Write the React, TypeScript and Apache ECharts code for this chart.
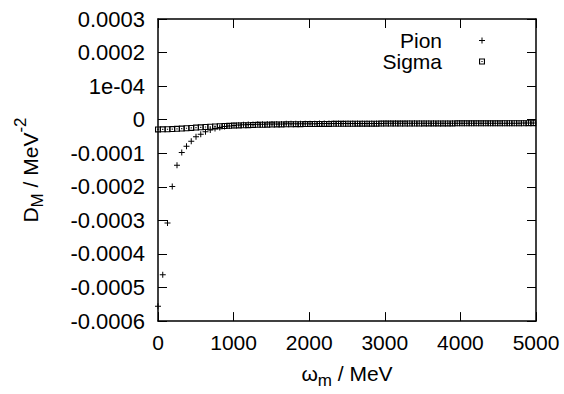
import React, { useEffect, useRef } from 'react';
import * as echarts from 'echarts';

// Matsubara frequencies omega_m (MeV)
const omega = [
  0, 62.8, 125.7, 188.5, 251.3, 314.2, 377.0, 439.8, 502.7, 565.5,
  628.3, 691.2, 754.0, 816.8, 879.6, 942.5, 1005.3, 1068.1, 1131.0, 1193.8,
  1256.6, 1319.5, 1382.3, 1445.1, 1508.0, 1570.8, 1633.6, 1696.5, 1759.3, 1822.1,
  1885.0, 1947.8, 2010.6, 2073.5, 2136.3, 2199.1, 2261.9, 2324.8, 2387.6, 2450.4,
  2513.3, 2576.1, 2638.9, 2701.8, 2764.6, 2827.4, 2890.3, 2953.1, 3015.9, 3078.8,
  3141.6, 3204.4, 3267.3, 3330.1, 3392.9, 3455.8, 3518.6, 3581.4, 3644.2, 3707.1,
  3769.9, 3832.7, 3895.6, 3958.4, 4021.2, 4084.1, 4146.9, 4209.7, 4272.6, 4335.4,
  4398.2, 4461.1, 4523.9, 4586.7, 4649.6, 4712.4, 4775.2, 4838.1, 4900.9, 4963.7,
];

const pion = [
  -556e-6, -462e-6, -308e-6, -199e-6, -136e-6, -98e-6, -79e-6, -64e-6, -51e-6, -43e-6,
  -36e-6, -31e-6, -26e-6, -23e-6, -20.5e-6, -18.5e-6, -17e-6, -16e-6, -15.2e-6, -14.6e-6,
  -14.1e-6, -13.7e-6, -13.4e-6, -13.1e-6, -12.9e-6, -12.7e-6, -12.5e-6, -12.35e-6, -12.2e-6, -12.1e-6,
  -12.0e-6, -11.9e-6, -11.8e-6, -11.7e-6, -11.6e-6, -11.55e-6, -11.5e-6, -11.45e-6, -11.4e-6, -11.35e-6,
  -11.3e-6, -11.25e-6, -11.2e-6, -11.15e-6, -11.1e-6, -11.05e-6, -11.0e-6, -10.95e-6, -10.9e-6, -10.9e-6,
  -10.85e-6, -10.8e-6, -10.8e-6, -10.75e-6, -10.7e-6, -10.7e-6, -10.65e-6, -10.6e-6, -10.6e-6, -10.6e-6,
  -10.55e-6, -10.55e-6, -10.5e-6, -10.5e-6, -10.5e-6, -10.45e-6, -10.45e-6, -10.4e-6, -10.4e-6, -10.4e-6,
  -10.35e-6, -10.35e-6, -10.3e-6, -10.3e-6, -10.3e-6, -10.25e-6, -10.25e-6, -10.2e-6, -10.2e-6, -10.2e-6,
];

const sigma = [
  -29.0e-6, -28.8e-6, -28.4e-6, -27.8e-6, -27.1e-6, -26.3e-6, -25.4e-6, -24.5e-6, -23.6e-6, -22.7e-6,
  -21.8e-6, -21.0e-6, -20.2e-6, -19.5e-6, -18.8e-6, -18.2e-6, -17.6e-6, -17.1e-6, -16.6e-6, -16.2e-6,
  -15.8e-6, -15.4e-6, -15.1e-6, -14.8e-6, -14.5e-6, -14.2e-6, -14.0e-6, -13.8e-6, -13.6e-6, -13.4e-6,
  -13.2e-6, -13.05e-6, -12.9e-6, -12.8e-6, -12.7e-6, -12.6e-6, -12.5e-6, -12.4e-6, -12.3e-6, -12.2e-6,
  -12.1e-6, -12.0e-6, -11.95e-6, -11.9e-6, -11.85e-6, -11.8e-6, -11.7e-6, -11.65e-6, -11.6e-6, -11.55e-6,
  -11.5e-6, -11.45e-6, -11.4e-6, -11.35e-6, -11.3e-6, -11.25e-6, -11.2e-6, -11.15e-6, -11.1e-6, -11.05e-6,
  -11.0e-6, -10.98e-6, -10.95e-6, -10.9e-6, -10.88e-6, -10.85e-6, -10.8e-6, -10.78e-6, -10.75e-6, -10.72e-6,
  -10.7e-6, -10.68e-6, -10.65e-6, -10.62e-6, -10.6e-6, -10.58e-6, -10.55e-6, -10.52e-6, -10.5e-6, -10.5e-6,
];

const xTickLabels = ['0', '1000', '2000', '3000', '4000', '5000'];
const yTickLabels = [
  '-0.0006', '-0.0005', '-0.0004', '-0.0003', '-0.0002', '-0.0001', '0', '1e-04', '0.0002', '0.0003',
];

const FONT = 'Liberation Sans, Arial, Helvetica, sans-serif';
const PLUS = 'path://M2.5,0H3.5V2.5H6V3.5H3.5V6H2.5V3.5H0V2.5H2.5Z';
const BOXDOT = 'path://M0,0H6V6H0Z M1.1,1.1V4.9H4.9V1.1Z M2.4,2.4H3.6V3.6H2.4Z';

export default function App() {
  const ref = useRef<HTMLDivElement>(null);
  useEffect(() => {
    document.body.style.margin = '0';
    const chart = echarts.init(ref.current!, null, { renderer: 'svg' });
    const axisLine = { show: true, onZero: false, lineStyle: { color: '#000', width: 1.5 } };
    const axisTick = { show: true, inside: true, length: 9, lineStyle: { color: '#000', width: 1 } };
    const xCommon = { type: 'value', min: 0, max: 5000, interval: 1000, splitLine: { show: false }, axisLine, axisTick };
    const yCommon = { type: 'value', min: -0.0006, max: 0.0003, interval: 0.0001, splitLine: { show: false }, axisLine, axisTick };
    chart.setOption({
      animation: false,
      backgroundColor: '#fff',
      textStyle: { fontFamily: FONT, color: '#000' },
      grid: { left: 158, right: 28, top: 19, bottom: 70, containLabel: false },
      xAxis: [
        {
          ...xCommon,
          position: 'bottom',
          axisLabel: {
            show: true,
            margin: 11,
            color: '#000',
            fontSize: 21,
            fontFamily: FONT,
            formatter: (v: number) => xTickLabels[Math.round(v / 1000)] ?? '',
          },
          name: '{a|ω}{s|m}{a| / MeV}',
          nameLocation: 'middle',
          nameGap: 40,
          nameTextStyle: {
            color: '#000',
            fontFamily: FONT,
            rich: {
              a: { fontSize: 21, lineHeight: 24, fontFamily: FONT, color: '#000' },
              s: { fontSize: 17, lineHeight: 24, padding: [14, 0, 0, 0], fontFamily: FONT, color: '#000' },
            },
          },
        },
        { ...xCommon, position: 'top', axisLabel: { show: false } },
      ],
      yAxis: [
        {
          ...yCommon,
          position: 'left',
          axisLabel: {
            show: true,
            margin: 13,
            color: '#000',
            fontSize: 22,
            fontFamily: FONT,
            formatter: (v: number) => yTickLabels[Math.round(v / 0.0001) + 6] ?? '',
          },
          name: '{a|D}{s|M}{a| / MeV}{p|-2}',
          nameLocation: 'middle',
          nameRotate: 90,
          nameGap: 116,
          nameTextStyle: {
            color: '#000',
            fontFamily: FONT,
            rich: {
              a: { fontSize: 21, lineHeight: 24, fontFamily: FONT, color: '#000' },
              s: { fontSize: 17, lineHeight: 24, padding: [14, 0, 0, 0], fontFamily: FONT, color: '#000' },
              p: { fontSize: 17, lineHeight: 24, padding: [0, 0, 20, 0], fontFamily: FONT, color: '#000' },
            },
          },
        },
        { ...yCommon, position: 'right', axisLabel: { show: false } },
      ],
      legend: {
        orient: 'vertical',
        right: 79,
        top: 30,
        align: 'right',
        padding: 0,
        itemGap: 0,
        itemWidth: 6,
        itemHeight: 6,
        textStyle: { fontSize: 21, lineHeight: 21, fontFamily: FONT, color: '#000', padding: [0, 32, 0, 0] },
        data: ['Pion', 'Sigma'],
      },
      series: [
        {
          name: 'Pion',
          type: 'scatter',
          symbol: PLUS,
          symbolSize: 6,
          itemStyle: { color: '#000', opacity: 1 },
          data: omega.map((x, i) => [x, pion[i]]),
        },
        {
          name: 'Sigma',
          type: 'scatter',
          symbol: BOXDOT,
          symbolSize: 6,
          itemStyle: { color: '#000', opacity: 1 },
          data: omega.map((x, i) => [x, sigma[i]]),
        },
      ],
    });
    return () => chart.dispose();
  }, []);
  return <div ref={ref} style={{ width: 564, height: 394 }} />;
}
